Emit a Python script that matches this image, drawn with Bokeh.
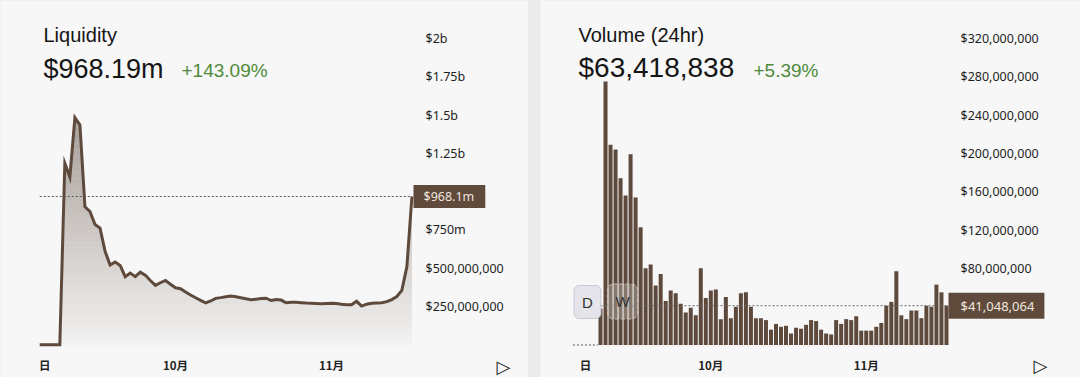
import numpy as np
import pandas as pd
from bokeh.plotting import figure
from bokeh.layouts import row
from bokeh.models import Range1d, FixedTicker, Label
from bokeh.embed import file_html
from bokeh.resources import INLINE

# ---------------- data ----------------
liq_zero_dates = ["2024-09-04", "2024-09-05", "2024-09-06", "2024-09-07", "2024-09-08"]
liq_start = "2024-09-09"
liq_values_m = [1184, 1095, 1483, 1435, 900, 870, 785, 762, 610, 520,
                540, 518, 445, 468, 445, 474, 455, 420, 388, 405,
                420, 395, 372, 366, 345, 325, 307, 290, 274, 286,
                303, 308, 314, 318, 314, 307, 300, 294, 298, 302,
                304, 289, 296, 292, 274, 277, 277, 275, 273, 272,
                270, 268, 270, 272, 270, 265, 261, 261, 284, 253,
                265, 271, 273, 275, 282, 295, 315, 355, 510, 968]
liq_current = 968.19e6
liq_header = "$968.19m"
liq_change = "+143.09%"
liq_ticks = [250e6, 500e6, 750e6, 1000e6, 1250e6, 1500e6, 1750e6, 2000e6]
liq_tick_labels = ["$250,000,000", "$500,000,000", "$750m", "", "$1.25b", "$1.5b", "$1.75b", "$2b"]
liq_box_text = "$968.1m"

vol_zero_dates = ["2024-09-04", "2024-09-05", "2024-09-06", "2024-09-07", "2024-09-08"]
vol_start = "2024-09-09"
vol_values_m = [38, 275, 209, 204, 174, 156, 199, 154, 123, 80,
                84, 62, 74, 46, 57, 54, 43, 34, 39, 31,
                80, 49, 57, 58, 27, 50, 28, 40, 54, 55,
                40, 28, 28, 26, 16, 22, 19, 20, 12, 18,
                17, 21, 26, 25, 16, 12, 11, 26, 22, 27,
                26, 30, 15, 15, 15, 19, 23, 41, 45, 77,
                31, 27, 36, 36, 28, 41, 40, 63, 55, 41.048064]
vol_current = 41048064
vol_header = "$63,418,838"
vol_change = "+5.39%"
vol_ticks = [40e6, 80e6, 120e6, 160e6, 200e6, 240e6, 280e6, 320e6]
vol_tick_labels = ["", "$80,000,000", "$120,000,000", "$160,000,000", "$200,000,000",
                   "$240,000,000", "$280,000,000", "$320,000,000"]

x_tick_dates_left = ["2024-09-05", "2024-10-01", "2024-11-01"]
x_tick_dates_right = ["2024-09-06", "2024-10-01", "2024-11-01"]
x_tick_labels = ["日", "10月", "11月"]

# ---------------- style ----------------
CARD = "#f7f7f7"
PAGE = "#ebebeb"
BROWN = "#5e4a3d"
BOX = "#5f4a3c"
BOXTXT = "#efe6de"
GREEN = "#4f8a3a"
DAY = 86400000.0
H = 377


def ms(d):
    return pd.Timestamp(d).value / 1e6


class Geo:
    """pixel (within a figure) -> data coordinates; frame covers the whole figure"""
    def __init__(self, x0, ms_per_px, y1, u_per_px):
        self.x0, self.mpp, self.y1, self.upp = x0, ms_per_px, y1, u_per_px

    def x(self, px):
        return self.x0 + px * self.mpp

    def y(self, py):
        return self.y1 - py * self.upp


def make_fig(width, g, y0):
    p = figure(width=width, height=H, x_axis_type="datetime",
               x_range=Range1d(g.x(0), g.x(width)), y_range=Range1d(y0, g.y1),
               output_backend="svg", toolbar_location=None, y_axis_location="right",
               min_border_left=0, min_border_right=0, min_border_top=0,
               min_border_bottom=0, background_fill_color=CARD,
               border_fill_color=CARD, outline_line_color=None)
    p.grid.visible = False
    return p


def style_axes(p, g, ticks, labels, xt, xl, axis_px_x, axis_px_y):
    ya = p.yaxis[0]
    ya.fixed_location = g.x(axis_px_x)
    ya.ticker = FixedTicker(ticks=ticks, minor_ticks=[])
    ya.major_label_overrides = {t: s for t, s in zip(ticks, labels)}
    ya.axis_line_color = None
    ya.major_tick_line_color = None
    ya.minor_tick_line_color = None
    ya.major_tick_out = 0
    ya.major_tick_in = 0
    ya.major_label_standoff = 12
    ya.major_label_text_font = "Noto Sans"
    ya.major_label_text_font_size = "12.5px"
    ya.major_label_text_color = "#1e1e1e"
    xa = p.xaxis[0]
    xa.fixed_location = g.y(axis_px_y)
    xv = [ms(d) for d in xt]
    xa.ticker = FixedTicker(ticks=xv, minor_ticks=[])
    xa.major_label_overrides = {t: s for t, s in zip(xv, xl)}
    xa.axis_line_color = None
    xa.major_tick_line_color = None
    xa.minor_tick_line_color = None
    xa.major_tick_out = 0
    xa.major_tick_in = 0
    xa.major_label_standoff = 6
    xa.major_label_text_font = "Noto Sans CJK SC"
    xa.major_label_text_font_size = "11.5px"
    xa.major_label_text_font_style = "bold"
    xa.major_label_text_color = "#222222"


def add_text(p, g, px, py, text, size, color="#151515", font="Liberation Sans", **kw):
    p.add_layout(Label(x=g.x(px), y=g.y(py), text=text, text_font=font,
                       text_font_size=size, text_color=color, text_align="left",
                       text_baseline="middle", **kw))


def gradient_area(p, xs, ys, top, n=40, alpha_lo=0.03, alpha_hi=0.58, color="#6b5b50"):
    """area under a polyline, shaded in horizontal bands (vertical gradient)"""
    levels = np.linspace(0, top, n + 1)
    extra = []
    for i in range(len(xs) - 1):
        a, b = ys[i], ys[i + 1]
        if a == b:
            continue
        for lv in levels:
            if min(a, b) < lv < max(a, b):
                extra.append(xs[i] + (lv - a) / (b - a) * (xs[i + 1] - xs[i]))
    rx = np.unique(np.concatenate([xs, extra]))
    ry = np.interp(rx, xs, ys)
    for lo, hi in zip(levels[:-1], levels[1:]):
        alpha = alpha_lo + (alpha_hi - alpha_lo) * ((lo + hi) / 2 / top)
        p.varea(x=rx, y1=lo, y2=np.clip(ry, lo, hi), fill_color=color, fill_alpha=alpha)


# ---------------- left: liquidity ----------------
LW = 528
l_px_day = 5.03
l_ppu = 0.1532 / 1e6
l_y0 = -(H - 344.3) / l_ppu
gL = Geo(ms("2024-10-01") - 175 / l_px_day * DAY, DAY / l_px_day, l_y0 + H / l_ppu, 1 / l_ppu)
p1 = make_fig(LW, gL, l_y0)
style_axes(p1, gL, liq_ticks, liq_tick_labels, x_tick_dates_left, x_tick_labels, 413, 350)

liq_dates = pd.to_datetime(liq_zero_dates).tolist() + pd.date_range(liq_start, periods=len(liq_values_m)).tolist()
liq_x = np.array([ms(d) for d in liq_dates])
liq_vals = np.array([0.0] * len(liq_zero_dates) + [v * 1e6 for v in liq_values_m])

gradient_area(p1, liq_x, liq_vals, 1500e6)

p1.segment(x0=[liq_x[0]], x1=[liq_x[-1]], y0=[liq_current], y1=[liq_current],
           line_color="#555555", line_width=1, line_dash="2 2")
p1.line(liq_x, liq_vals, line_color=BROWN, line_width=3, line_join="miter")

p1.add_layout(Label(x=gL.x(413), y=liq_current, text=liq_box_text, text_font="Noto Sans",
                    text_font_size="12.5px", text_color=BOXTXT, text_align="left",
                    text_baseline="middle", background_fill_color=BOX,
                    padding=dict(left=10, right=11, top=3, bottom=3)))
add_text(p1, gL, 43, 34, "Liquidity", "20px")
add_text(p1, gL, 43, 68, liq_header, "27px")
add_text(p1, gL, 181, 70, liq_change, "19px", color=GREEN)
add_text(p1, gL, 496, 366, "▷", "18px", color="#222222", font="DejaVu Sans")

# ---------------- right: volume ----------------
RW = 540
r_px_day = 5.014
r_ppu = 0.958 / 1e6
r_y0 = -(H - 344.5) / r_ppu
gR = Geo(ms(vol_start) - 60 / r_px_day * DAY, DAY / r_px_day, r_y0 + H / r_ppu, 1 / r_ppu)
p2 = make_fig(RW, gR, r_y0)
style_axes(p2, gR, vol_ticks, vol_tick_labels, x_tick_dates_right, x_tick_labels, 408, 350)

vol_dates = pd.date_range(vol_start, periods=len(vol_values_m))
vol_vals = [v * 1e6 for v in vol_values_m]
p2.vbar(x=vol_dates, top=vol_vals, width=0.8 * DAY, fill_color=BROWN, line_color=None)

vz = [ms(d) for d in vol_zero_dates]
p2.segment(x0=[vz[0] - 0.5 * DAY], x1=[vz[-1] + 0.5 * DAY], y0=[0], y1=[0],
           line_color="#555555", line_width=1, line_dash="2 2")
p2.segment(x0=[vol_dates[0]], x1=[vol_dates[-1]], y0=[vol_current], y1=[vol_current],
           line_color="#6a6a6a", line_width=1, line_dash="2 2")

p2.add_layout(Label(x=gR.x(408), y=vol_current, text=f"${vol_current:,}", text_font="Noto Sans",
                    text_font_size="13px", text_color=BOXTXT, text_align="left",
                    text_baseline="middle", background_fill_color=BOX,
                    padding=dict(left=12, right=10, top=4, bottom=4)))
add_text(p2, gR, 38, 34, "Volume (24hr)", "20px")
add_text(p2, gR, 38, 67, vol_header, "28px")
add_text(p2, gR, 213, 70, vol_change, "19px", color=GREEN)
add_text(p2, gR, 493, 365, "▷", "18px", color="#222222", font="DejaVu Sans")

# range buttons
p2.add_layout(Label(x=gR.x(47), y=gR.y(301.5), text="D", text_font="Liberation Sans",
                    text_font_size="15px", text_color="#333333", text_align="center",
                    text_baseline="middle", background_fill_color="#e4e4ea",
                    border_line_color="#c9c9d1", border_radius=5,
                    padding=dict(left=8, right=8, top=8, bottom=8)))
p2.add_layout(Label(x=gR.x(82), y=gR.y(301), text="W", text_font="Liberation Sans",
                    text_font_size="15px", text_color="#333333", text_align="center",
                    text_baseline="middle", background_fill_color="#ffffff",
                    background_fill_alpha=0.25, border_line_color="#cdbfb2",
                    border_line_dash="4 2", border_radius=6,
                    padding=dict(left=8, right=8, top=9, bottom=9)))

layout = row(p1, p2, spacing=12, styles={"background-color": PAGE})
open("out.html", "w").write(file_html(layout, INLINE))
